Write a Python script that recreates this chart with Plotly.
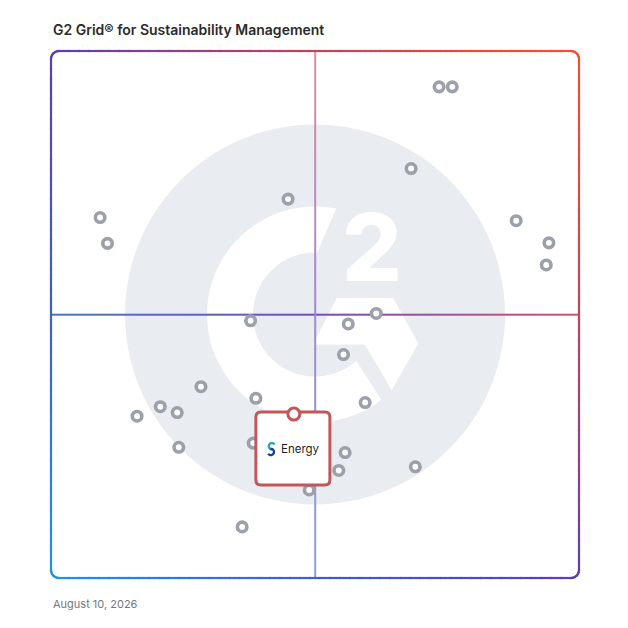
import numpy as np
import plotly.graph_objects as go

# ── data ─────────────────────────────────────────────────────────────────────

TITLE = "G2 Grid® for Sustainability Management"
DATE_LABEL = "August 10, 2026"

# satisfaction (x) and market presence (y), 0-100 scale
satisfaction = [73.5, 76.0, 68.2, 44.9, 9.3, 10.7, 88.1, 94.3, 93.8, 37.8,
                56.3, 61.6, 55.4, 28.4, 38.8, 59.5, 20.7, 23.9, 16.3, 24.2,
                38.3, 55.7, 54.5, 69.0, 48.9, 36.2]
market_presence = [93.2, 93.2, 77.7, 71.9, 68.4, 63.5, 67.8, 63.6, 59.4, 48.8,
                   48.2, 50.2, 42.4, 36.3, 34.1, 33.3, 32.5, 31.4, 30.7, 24.8,
                   25.6, 23.8, 20.4, 21.1, 16.7, 9.7]

highlight_name = "Energy"
highlight_x = [46.0]
highlight_y = [31.1]

# ── style ────────────────────────────────────────────────────────────────────

FONT = "Inter, Roboto, sans-serif"
RING_GRAY = "#9ca0ab"
RED = "#c0575b"
WATERMARK = "#e9ecf0"
PW, PH = 528, 527          # plot area in pixels
STOPS = [(0.0, (30, 150, 216)), (0.25, (62, 99, 184)), (0.5, (92, 62, 176)),
         (0.625, (150, 63, 136)), (0.75, (192, 68, 95)), (1.0, (246, 82, 42))]


def grad(t, alpha=1.0):
    """Diagonal gradient: blue bottom-left -> purple -> orange top-right (mixed on white)."""
    t = min(max(t, 0), 1)
    for (t0, c0), (t1, c1) in zip(STOPS[:-1], STOPS[1:]):
        if t <= t1:
            f = (t - t0) / (t1 - t0)
            c = [a + (b - a) * f for a, b in zip(c0, c1)]
            break
    c = [round(v * alpha + 255 * (1 - alpha)) for v in c]
    return f"rgb({c[0]},{c[1]},{c[2]})"


def rounded_outline(w, h, r, step=10):
    pts = []
    def side(p0, p1):
        n = max(1, int(np.hypot(p1[0] - p0[0], p1[1] - p0[1]) / step))
        for k in range(n):
            pts.append((p0[0] + (p1[0] - p0[0]) * k / n, p0[1] + (p1[1] - p0[1]) * k / n))
    def corner(cx, cy, a0):
        for a in np.linspace(a0, a0 + 90, 7)[:-1]:
            pts.append((cx + r * np.cos(np.radians(a)), cy + r * np.sin(np.radians(a))))
    side((r, 0), (w - r, 0)); corner(w - r, r, 270)
    side((w, r), (w, h - r)); corner(w - r, h - r, 0)
    side((w - r, h), (r, h)); corner(r, h - r, 90)
    side((0, h - r), (0, r)); corner(r, r, 180)
    pts.append(pts[0])
    return pts


def stretch(x0, y0, x1, y1, d=0.8):
    """Lengthen a segment a little at both ends so neighbours overlap (no seams)."""
    L = np.hypot(x1 - x0, y1 - y0)
    ux, uy = (x1 - x0) / L * d, (y1 - y0) / L * d
    return x0 - ux, y0 - uy, x1 + ux, y1 + uy


def arc_pts(radius, a0, a1, n=60, cx=0.0, cy=0.0):
    return [(cx + radius * np.cos(np.radians(a)), cy + radius * np.sin(np.radians(a)))
            for a in np.linspace(a0, a1, n)]


def to_path(pts, close=True):
    s = "M " + " L ".join(f"{x:.1f},{y:.1f}" for x, y in pts)
    return s + " Z" if close else s


# ── shapes ───────────────────────────────────────────────────────────────────

shapes = []
pix = dict(xref="x", yref="y", xsizemode="pixel", ysizemode="pixel")

# G2 watermark
shapes.append(dict(type="circle", **pix, xanchor=50, yanchor=50,
                   x0=-190, x1=190, y0=-190, y1=190,
                   fillcolor=WATERMARK, line_width=0, layer="below"))
g_arc = arc_pts(108, 78.6, 307.8) + arc_pts(62, 311.8, 88)
shapes.append(dict(type="path", **pix, xanchor=50, yanchor=50, path=to_path(g_arc),
                   fillcolor="white", line_width=0, layer="below"))
chevron = [(21.7, 16.5), (78.3, 16.5), (103.3, -29), (76.7, -75.7), (50, -30), (-2, -30)]
shapes.append(dict(type="path", **pix, xanchor=50, yanchor=50, path=to_path(chevron),
                   fillcolor="white", line_width=0, layer="below"))

# gradient frame
outline = rounded_outline(PW, PH, 8)
for (x0, y0), (x1, y1) in zip(outline[:-1], outline[1:]):
    t = ((x0 + x1) / 2 / PW + (y0 + y1) / 2 / PH) / 2
    sx0, sy0, sx1, sy1 = stretch(x0, y0, x1, y1)
    shapes.append(dict(type="line", xref="paper", yref="paper",
                       x0=sx0 / PW, x1=sx1 / PW, y0=sy0 / PH, y1=sy1 / PH,
                       line=dict(color=grad(t), width=2.2), layer="above"))

# highlighted product card
hx, hy = highlight_x[0], highlight_y[0]
card = ("M -33,2 L 31,2 Q 36,2 36,-3 L 36,-66 Q 36,-71 31,-71 L -33,-71 "
        "Q -38,-71 -38,-66 L -38,-3 Q -38,2 -33,2 Z")
shapes.append(dict(type="path", **pix, xanchor=hx, yanchor=hy, path=card,
                   fillcolor="white", line=dict(color=RED, width=3), layer="above"))
shapes.append(dict(type="circle", **pix, xanchor=hx, yanchor=hy, x0=-6, x1=6, y0=-6, y1=6,
                   fillcolor="white", line=dict(color=RED, width=3), layer="above"))
# little "S" logo of the product
lx, ly = -22.5, -35
shapes.append(dict(type="path", **pix, xanchor=hx, yanchor=hy,
                   path=to_path(arc_pts(3.2, 35, 275, 16, lx + 0.6, ly + 2.8), close=False),
                   line=dict(color="#22a6c9", width=2.3), layer="above"))
shapes.append(dict(type="path", **pix, xanchor=hx, yanchor=hy,
                   path=to_path(arc_pts(3.2, 95, -145, 16, lx - 0.6, ly - 2.8), close=False),
                   line=dict(color="#1b3f8a", width=2.3), layer="above"))

# ── figure ───────────────────────────────────────────────────────────────────

fig = go.Figure()

# quadrant lines as thin gradient strips (smooth, sit above the watermark)
N = 60
u = np.linspace(0, 1, N)
half_w = 0.8 * 100 / PW
cs_h = [[float(k), grad((k + 0.5) / 2, 0.9)] for k in u]
cs_v = [[float(k), grad((0.5 + k) / 2, 0.6)] for k in u]
fig.add_trace(go.Heatmap(
    x=np.linspace(0, 100, N + 1), y=[50 - half_w, 50 + half_w], z=[u],
    colorscale=cs_h, zmin=0, zmax=1, showscale=False, hoverinfo="skip",
))
fig.add_trace(go.Heatmap(
    x=[50 - half_w, 50 + half_w], y=np.linspace(0, 100, N + 1), z=[[k] for k in u],
    colorscale=cs_v, zmin=0, zmax=1, showscale=False, hoverinfo="skip",
))

fig.add_trace(go.Scatter(
    x=satisfaction, y=market_presence, mode="markers", hoverinfo="skip",
    marker=dict(size=9.5, color="white", line=dict(color=RING_GRAY, width=3.6)),
))
fig.add_trace(go.Scatter(
    x=highlight_x, y=highlight_y, mode="markers", name=highlight_name,
    marker=dict(size=9, color="white", line=dict(color=RED, width=3)),
))

fig.update_layout(
    width=628, height=628, showlegend=False,
    # page body adds 8px, so the margins are shifted to keep the plot at 51px
    margin=dict(l=43, r=57, t=43, b=58),
    plot_bgcolor="white", paper_bgcolor="white",
    xaxis=dict(range=[0, 100], visible=False, fixedrange=True),
    yaxis=dict(range=[0, 100], visible=False, fixedrange=True),
    shapes=shapes,
    annotations=[
        dict(text="2", x=50, y=50, xref="x", yref="y", xshift=57, yshift=68,
             showarrow=False, font=dict(family=FONT, size=94, color="white", weight=800)),
        dict(text=highlight_name, x=hx, y=hy, xref="x", yref="y", xshift=6.5, yshift=-34.5,
             showarrow=False, font=dict(family=FONT, size=11.5, color="#1f1f1f")),
        dict(text=TITLE, x=0, y=1.0417, xref="paper", yref="paper", xanchor="left",
             yanchor="middle", showarrow=False,
             font=dict(family=FONT, size=14, color="#2b2b2b", weight=600)),
        dict(text=DATE_LABEL, x=0, y=-0.0493, xref="paper", yref="paper", xanchor="left",
             yanchor="middle", showarrow=False,
             font=dict(family=FONT, size=11, color="#777777")),
    ],
)

fig.write_html("out.html")
